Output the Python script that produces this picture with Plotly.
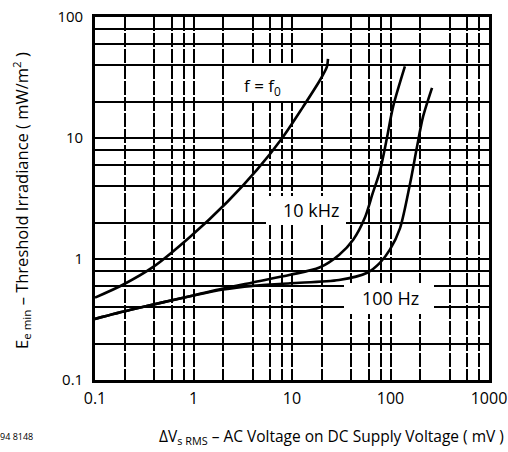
import plotly.graph_objects as go

# Supply ripple voltage (mV) and threshold irradiance (mW/m^2) for each modulation frequency
f0_x = [0.1, 0.19, 0.39, 0.92, 2.2, 4.4, 8.1, 12.9, 19.2, 22.6, 23.2]
f0_y = [0.48, 0.61, 0.86, 1.52, 2.96, 5.45, 10.2, 18, 30, 38.7, 45]

khz10_x = [0.1, 0.23, 0.5, 1.0, 2.0, 4.0, 9.6, 19, 30, 42, 55, 66, 78, 92, 106, 140]
khz10_y = [0.32, 0.38, 0.44, 0.50, 0.57, 0.64, 0.74, 0.85, 1.08, 1.45, 2.2, 3.5, 5.3, 10, 18, 39]

hz100_x = [0.1, 0.23, 0.5, 1.0, 2.0, 4.0, 9.6, 30, 58, 78, 99, 125, 158, 186, 214, 264]
hz100_y = [0.32, 0.38, 0.44, 0.50, 0.56, 0.60, 0.63, 0.67, 0.77, 0.93, 1.2, 1.8, 4.2, 8.5, 15, 26]

x_ticks = [0.1, 1, 10, 100, 1000]
x_tick_text = ["0.1", "1", "10", "100", "1000"]
y_ticks = [0.1, 1, 10, 100]
y_tick_text = ["0.1", "1", "10", "100"]

FONT = "Open Sans"
W, H = 508, 452
ML, MR, MT, MB = 95, 19, 17, 72

# minor grid at 2, 4, 6, 8 of each decade
x_minor = [m * 10.0 ** k for k in range(-1, 3) for m in (2, 4, 6, 8)]
y_minor = [m * 10.0 ** k for k in range(-1, 2) for m in (2, 4, 6, 8)]

fig = go.Figure()
for xs, ys in ((f0_x, f0_y), (khz10_x, khz10_y), (hz100_x, hz100_y)):
    fig.add_trace(go.Scatter(x=xs, y=ys, mode="lines",
                             line=dict(color="black", width=2.6, shape="spline", smoothing=0.8),
                             showlegend=False, hoverinfo="skip"))

axis_common = dict(type="log", showline=True, linecolor="black", linewidth=2.6, mirror=True,
                   showgrid=True, gridcolor="black", ticks="", zeroline=False)

fig.update_xaxes(range=[-1, 3], tickmode="array", tickvals=x_ticks, ticktext=x_tick_text,
                 gridwidth=1.6, griddash="14px,2px", ticklabelstandoff=2,
                 tickfont=dict(family=FONT, size=16, color="black"),
                 minor=dict(tickmode="array", tickvals=x_minor, showgrid=True,
                            gridcolor="black", gridwidth=1.5, griddash="14px,2px", ticks=""),
                 **axis_common)
fig.update_yaxes(range=[-1, 2], tickmode="array", tickvals=y_ticks, ticktext=y_tick_text,
                 gridwidth=2.2, ticklabelstandoff=6,
                 tickfont=dict(family=FONT, size=15, color="black"),
                 minor=dict(tickmode="array", tickvals=y_minor, showgrid=True,
                            gridcolor="black", gridwidth=2.2, ticks=""),
                 **axis_common)


def px_x(p):
    return (p - ML) / (W - ML - MR)


def px_y(p):
    return (H - MB - p) / (H - MT - MB)


# white patches that clear the grid behind the curve labels
for x0, x1, y0, y1 in ((240, 300, 66, 101), (266, 346, 196, 224), (344, 434, 283, 314)):
    fig.add_shape(type="rect", xref="paper", yref="paper", layer="above",
                  x0=px_x(x0), x1=px_x(x1), y0=px_y(y1), y1=px_y(y0),
                  fillcolor="white", line=dict(width=0))


def label(text, lx, ly, size, **kw):
    opts = dict(xanchor="center", yanchor="middle")
    opts.update(kw)
    fig.add_annotation(text=text, xref="paper", yref="paper", x=px_x(lx), y=px_y(ly),
                       showarrow=False, font=dict(family=FONT, size=size, color="black"),
                       **opts)


label("f = f<sub>0</sub>", 262, 86, 17)
label("10 kHz", 311, 210, 18)
label("100 Hz", 390, 298, 18)

label("E<sub>e min</sub> – Threshold Irradiance ( mW/m<sup>2</sup> )", 21, 201, 16.5,
      textangle=-90)
label("ΔV<sub>s RMS</sub> – AC Voltage on DC Supply Voltage ( mV )", 331, 437, 15.5)
label("94 8148", 35, 437, 9, xanchor="right")

fig.update_layout(width=W, height=H,
                  margin=dict(l=ML, r=MR, t=MT, b=MB, autoexpand=False),
                  paper_bgcolor="white", plot_bgcolor="white", showlegend=False)

fig.write_html("out.html")
